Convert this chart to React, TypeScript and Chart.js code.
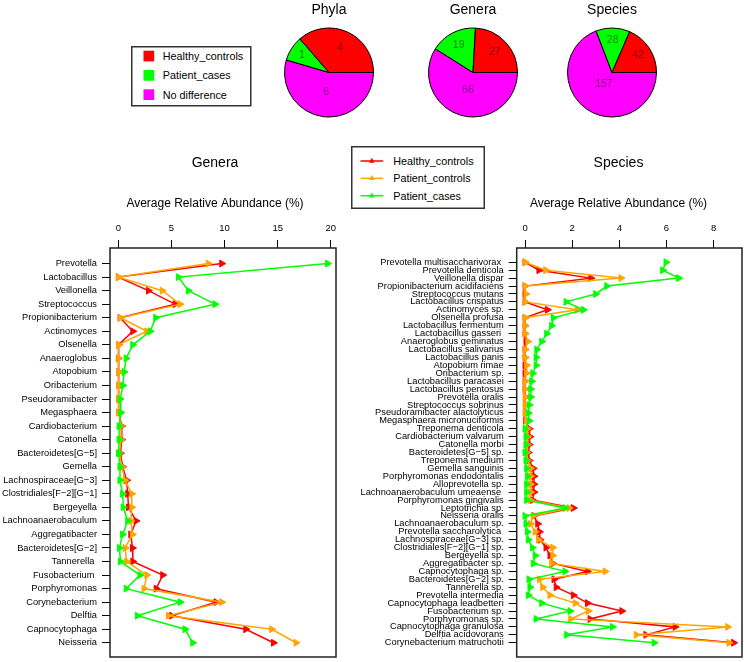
import React, { useEffect, useRef } from 'react';
import { Chart, registerables } from 'chart.js';
Chart.register(...registerables);

const FONT = "'Liberation Sans', Arial, Helvetica, sans-serif";

// ---- Pie data ----
const PIE_GROUPS = ['Healthy_controls', 'Patient_cases', 'No difference'];
const PIE_COLORS = ['#FF0000', '#00FF00', '#FF00FF'];
const PHYLA_COUNTS = [4, 1, 6];
const GENERA_COUNTS = [27, 19, 66];
const SPECIES_COUNTS = [42, 28, 157];

// ---- Profile series ----
const SERIES_NAMES = ['Healthy_controls', 'Patient_controls', 'Patient_cases'];
const SERIES_COLORS = ['#FF0000', '#FFA500', '#00FF00'];
const AXIS_TITLE = 'Average Relative Abundance (%)';

const GENERA = [
  'Prevotella', 'Lactobacillus', 'Veillonella', 'Streptococcus', 'Propionibacterium',
  'Actinomyces', 'Olsenella', 'Anaeroglobus', 'Atopobium', 'Oribacterium',
  'Pseudoramibacter', 'Megasphaera', 'Cardiobacterium', 'Catonella', 'Bacteroidetes[G\u22125]',
  'Gemella', 'Lachnospiraceae[G\u22123]', 'Clostridiales[F\u22122][G\u22121]', 'Bergeyella', 'Lachnoanaerobaculum',
  'Aggregatibacter', 'Bacteroidetes[G\u22122]', 'Tannerella ', 'Fusobacterium ', 'Porphyromonas',
  'Corynebacterium', 'Delftia', 'Capnocytophaga', 'Neisseria',
];
const GENERA_HEALTHY = [
  9.73, 0.0, 2.83, 5.34, 0.16, 1.36, 0.01, 0.0, 0.03, 0.03,
  0.03, 0.03, 0.32, 0.32, 0.2, 0.4, 0.78, 0.88, 0.95, 1.67,
  1.17, 1.33, 1.36, 4.18, 3.56, 9.2, 5.02, 12.0, 14.6,
];
const GENERA_PATIENT_CONTROLS = [
  8.47, 0.0, 4.14, 5.81, 0.2, 2.68, 0.01, 0.03, 0.02, 0.02,
  0.0, 0.02, 0.25, 0.25, 0.1, 0.33, 0.63, 1.26, 1.26, 1.17,
  1.33, 0.63, 0.78, 2.68, 2.42, 9.74, 4.71, 14.44, 16.73,
];
const GENERA_PATIENT_CASES = [
  19.7, 5.65, 6.59, 9.1, 3.52, 3.0, 1.36, 0.73, 0.54, 0.42,
  0.17, 0.23, 0.07, 0.07, 0.02, 0.15, 0.15, 0.4, 0.46, 0.88,
  0.4, 0.1, 0.2, 2.04, 0.73, 5.82, 1.79, 6.28, 7.0,
];
const GENERA_TICKS = [0, 5, 10, 15, 20];

const SPECIES = [
  'Prevotella multisaccharivorax ', 'Prevotella denticola', 'Veillonella dispar', 'Propionibacterium acidifaciens',
  'Streptococcus mutans', 'Lactobacillus crispatus', 'Actinomyces sp.', 'Olsenella profusa',
  'Lactobacillus fermentum', 'Lactobacillus gasseri ', 'Anaeroglobus geminatus', 'Lactobacillus salivarius',
  'Lactobacillus panis', 'Atopobium rimae', 'Oribacterium sp.', 'Lactobacillus paracasei',
  'Lactobacillus pentosus', 'Prevotella oralis', 'Streptococcus sobrinus', 'Pseudoramibacter alactolyticus',
  'Megasphaera micronuciformis', 'Treponema denticola', 'Cardiobacterium valvarum', 'Catonella morbi',
  'Bacteroidetes[G\u22125] sp.', 'Treponema medium', 'Gemella sanguinis', 'Porphyromonas endodontalis',
  'Alloprevotella sp.', 'Lachnoanaerobaculum umeaense ', 'Porphyromonas gingivalis', 'Leptotrichia sp.',
  'Neisseria oralis', 'Lachnoanaerobaculum sp.', 'Prevotella saccharolytica ', 'Lachnospiraceae[G\u22123] sp.',
  'Clostridiales[F\u22122][G\u22121] sp.', 'Bergeyella sp.', 'Aggregatibacter sp.', 'Capnocytophaga sp.',
  'Bacteroidetes[G\u22122] sp.', 'Tannerella sp.', 'Prevotella intermedia', 'Capnocytophaga leadbetteri',
  'Fusobacterium sp.', 'Porphyromonas sp.', 'Capnocytophaga granulosa', 'Delftia acidovorans',
  'Corynebacterium matruchotii',
];
const SPECIES_HEALTHY = [
  0.0, 0.59, 2.79, 0.0, 0.0, 0.0, 0.95, 0.0, 0.0, 0.0,
  0.04, 0.0, 0.0, 0.0, 0.0, 0.0, 0.0, 0.02, 0.02, 0.02,
  0.02, 0.18, 0.21, 0.18, 0.14, 0.18, 0.35, 0.38, 0.38, 0.38,
  0.31, 2.05, 0.38, 0.54, 0.61, 0.64, 0.89, 1.06, 1.18, 2.65,
  1.23, 1.32, 2.05, 2.65, 4.11, 2.76, 6.37, 5.13, 8.85,
];
const SPECIES_PATIENT_CONTROLS = [
  0.0, 0.88, 4.07, 0.0, 0.04, 0.0, 2.22, 0.0, 0.0, 0.0,
  0.12, 0.0, 0.0, 0.07, 0.07, 0.0, 0.0, 0.0, 0.0, 0.0,
  0.05, 0.1, 0.12, 0.1, 0.07, 0.1, 0.24, 0.24, 0.24, 0.24,
  0.21, 1.87, 0.35, 0.24, 0.43, 0.57, 1.18, 1.18, 1.13, 3.4,
  0.61, 0.75, 1.06, 2.13, 2.69, 1.94, 8.6, 4.72, 8.65,
];
const SPECIES_PATIENT_CASES = [
  5.98, 5.84, 6.52, 3.47, 3.0, 1.74, 2.48, 1.2, 1.13, 0.92,
  0.71, 0.5, 0.47, 0.47, 0.33, 0.28, 0.24, 0.24, 0.18, 0.14,
  0.18, 0.0, 0.04, 0.04, 0.0, 0.04, 0.07, 0.1, 0.07, 0.07,
  0.07, 1.7, 0.0, 0.04, 0.1, 0.14, 0.31, 0.43, 0.35, 1.7,
  0.17, 0.21, 0.14, 0.71, 1.91, 0.47, 3.71, 1.77, 5.48,
];
const SPECIES_TICKS = [0, 2, 4, 6, 8];

// ---- plugins ----
const pieLabels = {
  id: 'pieLabels',
  afterDatasetsDraw(chart: any) {
    const meta = chart.getDatasetMeta(0);
    const data = chart.data.datasets[0].data;
    const ctx = chart.ctx;
    ctx.save();
    ctx.font = `10.5px ${FONT}`;
    ctx.fillStyle = 'rgba(0,0,0,0.5)';
    ctx.textAlign = 'center';
    ctx.textBaseline = 'middle';
    meta.data.forEach((arc: any, i: number) => {
      const p = arc.getProps(['x', 'y', 'startAngle', 'endAngle', 'outerRadius'], true);
      const half = (p.endAngle - p.startAngle) / 2;
      const mid = p.startAngle + half;
      const d = (2 * p.outerRadius * Math.sin(half)) / (3 * half) + 3;
      ctx.fillText(String(data[i]), p.x + d * Math.cos(mid), p.y + d * Math.sin(mid));
    });
    ctx.restore();
  },
};

const boxPlugin = {
  id: 'plotBox',
  afterDraw(chart: any) {
    const { ctx, chartArea: a } = chart;
    ctx.save();
    ctx.strokeStyle = '#222';
    ctx.lineWidth = 1.5;
    ctx.strokeRect(a.left, a.top, a.right - a.left, a.bottom - a.top);
    ctx.restore();
  },
};

function PieChart({ title, counts, left }: { title: string; counts: number[]; left: number }) {
  const ref = useRef<HTMLCanvasElement | null>(null);
  useEffect(() => {
    const order = [2, 1, 0];
    const chart = new Chart(ref.current as HTMLCanvasElement, {
      type: 'pie',
      data: {
        labels: order.map((i) => PIE_GROUPS[i]),
        datasets: [
          {
            data: order.map((i) => counts[i]),
            backgroundColor: order.map((i) => PIE_COLORS[i]),
            borderColor: '#000',
            borderWidth: 1,
          },
        ],
      },
      options: {
        responsive: false,
        animation: false,
        rotation: 90,
        layout: { padding: { top: 2, bottom: 7.5, left: 0, right: 0 } },
        plugins: {
          legend: { display: false },
          tooltip: { enabled: false },
          title: {
            display: true,
            text: title,
            color: '#000',
            font: { family: FONT, size: 14, weight: 'normal' },
            padding: { top: 0, bottom: 8.7 },
          },
        },
      } as any,
      plugins: [pieLabels],
    });
    return () => chart.destroy();
  }, []);
  return (
    <canvas
      ref={ref}
      width={110}
      height={125}
      style={{ position: 'absolute', left, top: 0, width: 110, height: 125 }}
    />
  );
}

type ProfileProps = {
  title: string;
  names: string[];
  series: number[][];
  ticks: number[];
  left: number;
  width: number;
  axisW: number;
  rightW: number;
  padTop: number;
  padBottom: number;
};

function ProfileChart({ title, names, series, ticks, left, width, axisW, rightW, padTop, padBottom }: ProfileProps) {
  const ref = useRef<HTMLCanvasElement | null>(null);
  useEffect(() => {
    const all = series.flat();
    const lo = Math.min(...all);
    const hi = Math.max(...all);
    const ext = 0.04 * (hi - lo);
    const grid = {
      display: true,
      drawOnChartArea: false,
      drawTicks: true,
      tickLength: 8,
      color: '#000',
      lineWidth: 1,
    };
    const chart = new Chart(ref.current as HTMLCanvasElement, {
      type: 'line',
      data: {
        datasets: SERIES_NAMES.map((name, k) => ({
          label: name,
          data: series[k].map((v, i) => ({ x: v, y: i + 1 })),
          borderColor: SERIES_COLORS[k],
          backgroundColor: SERIES_COLORS[k],
          borderWidth: 1.5,
          pointStyle: 'triangle',
          pointRotation: 90,
          pointRadius: 4,
          pointBorderWidth: 1,
          pointBackgroundColor: SERIES_COLORS[k],
          pointBorderColor: SERIES_COLORS[k],
          tension: 0,
          fill: false,
          order: 2 - k,
          yAxisID: 'y',
          xAxisID: 'x',
        })),
      },
      options: {
        responsive: false,
        animation: false,
        indexAxis: 'y',
        layout: { padding: { left: 0, right: 0, top: 0, bottom: 2 } },
        plugins: {
          legend: { display: false },
          tooltip: { enabled: false },
          title: {
            display: true,
            text: title,
            color: '#000',
            font: { family: FONT, size: 14, weight: 'normal' },
            padding: { top: 14.6, bottom: 0 },
          },
          subtitle: {
            display: true,
            text: AXIS_TITLE,
            color: '#000',
            font: { family: FONT, size: 12, weight: 'normal' },
            padding: { top: 25.4, bottom: 0 },
          },
        },
        scales: {
          x: {
            type: 'linear',
            position: 'top',
            min: lo - ext,
            max: hi + ext,
            bounds: 'data',
            afterBuildTicks: (a: any) => {
              a.ticks = ticks.map((v) => ({ value: v }));
            },
            afterFit: (a: any) => {
              a.height = 36.8;
              a.paddingLeft = 0;
              a.paddingRight = 0;
            },
            ticks: {
              color: '#000',
              font: { family: FONT, size: 9.5 },
              padding: 6.3,
              maxRotation: 0,
              autoSkip: false,
              callback: (v: any) => String(v),
            },
            grid,
            border: { display: false },
          },
          y: {
            type: 'linear',
            position: 'left',
            reverse: true,
            min: 1 - padTop,
            max: names.length + padBottom,
            bounds: 'data',
            afterBuildTicks: (a: any) => {
              a.ticks = names.map((_, i) => ({ value: i + 1 }));
            },
            afterFit: (a: any) => {
              a.width = axisW;
              a.paddingTop = 0;
              a.paddingBottom = 0;
            },
            ticks: {
              color: '#000',
              font: { family: FONT, size: 9.3 },
              padding: 5,
              autoSkip: false,
              callback: (v: any) => names[Math.round(v) - 1] ?? '',
            },
            grid,
            border: { display: false },
          },
          spacer: {
            type: 'linear',
            position: 'right',
            display: true,
            grid: { display: false, drawTicks: false },
            ticks: { display: false },
            border: { display: false },
            afterFit: (a: any) => {
              a.width = rightW;
              a.paddingTop = 0;
              a.paddingBottom = 0;
            },
          },
        },
      } as any,
      plugins: [boxPlugin],
    });
    return () => chart.destroy();
  }, []);
  return (
    <canvas
      ref={ref}
      width={width}
      height={522}
      style={{ position: 'absolute', left, top: 140, width, height: 522 }}
    />
  );
}

function PieLegend() {
  const rows = [10, 29.3, 48.6];
  return (
    <svg width={121} height={61} style={{ position: 'absolute', left: 130.5, top: 45.5 }}>
      <rect x={0.75} y={0.75} width={119} height={59} fill="#fff" stroke="#333" strokeWidth={1.5} />
      {PIE_GROUPS.map((g, i) => (
        <g key={g}>
          <rect x={12.5} y={rows[i] - 5.3} width={10.7} height={10.7} fill={PIE_COLORS[i]} />
          <text x={31.8} y={rows[i]} dominantBaseline="central" fontFamily={FONT} fontSize={10.8} fill="#000">
            {g}
          </text>
        </g>
      ))}
    </svg>
  );
}

function SeriesLegend() {
  const rows = [15, 32.3, 49.7];
  return (
    <svg width={134} height={63} style={{ position: 'absolute', left: 350.5, top: 145.5 }}>
      <rect x={0.75} y={0.75} width={132.5} height={61.5} fill="#fff" stroke="#333" strokeWidth={1.5} />
      {SERIES_NAMES.map((s, i) => (
        <g key={s}>
          <line x1={9.5} x2={32.2} y1={rows[i]} y2={rows[i]} stroke={SERIES_COLORS[i]} strokeWidth={1.5} />
          <polygon
            points={`${20.8},${rows[i] - 3.2} ${23.6},${rows[i] + 1.8} ${18},${rows[i] + 1.8}`}
            fill={SERIES_COLORS[i]}
          />
          <text x={42.2} y={rows[i]} dominantBaseline="central" fontFamily={FONT} fontSize={10.8} fill="#000">
            {s}
          </text>
        </g>
      ))}
    </svg>
  );
}

export default function App() {
  return (
    <div
      style={{
        position: 'absolute',
        left: 0,
        top: 0,
        width: 744,
        height: 662,
        overflow: 'hidden',
        background: '#fff',
      }}
    >
      <PieChart title="Phyla" counts={PHYLA_COUNTS} left={274.3} />
      <PieChart title="Genera" counts={GENERA_COUNTS} left={418.3} />
      <PieChart title="Species" counts={SPECIES_COUNTS} left={556.7} />
      <ProfileChart
        title="Genera"
        names={GENERA}
        series={[GENERA_HEALTHY, GENERA_PATIENT_CONTROLS, GENERA_PATIENT_CASES]}
        ticks={GENERA_TICKS}
        left={0}
        width={430}
        axisW={110}
        rightW={94}
        padTop={1.15}
        padBottom={1.05}
      />
      <ProfileChart
        title="Species"
        names={SPECIES}
        series={[SPECIES_HEALTHY, SPECIES_PATIENT_CONTROLS, SPECIES_PATIENT_CASES]}
        ticks={SPECIES_TICKS}
        left={350}
        width={537}
        axisW={166.7}
        rightW={145}
        padTop={1.8}
        padBottom={1.8}
      />
      <PieLegend />
      <SeriesLegend />
    </div>
  );
}
